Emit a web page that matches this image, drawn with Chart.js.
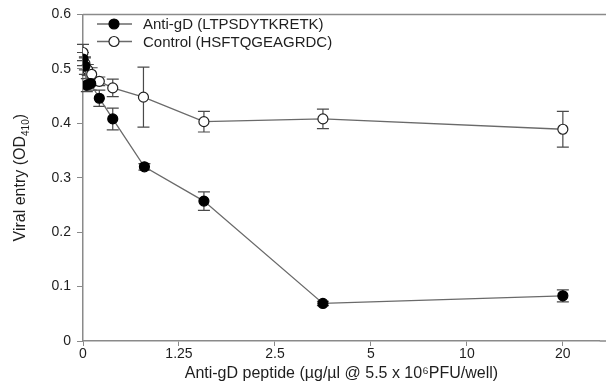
<!DOCTYPE html>
<html>
<head>
<meta charset="utf-8">
<script src="https://cdn.jsdelivr.net/npm/chart.js@4.4.1/dist/chart.umd.min.js"></script>
<style>
  body { margin: 0; background: #fff; }
</style>
</head>
<body>
<canvas id="entryChart" width="606" height="387"></canvas>
<script>
// x axis is not linear in the original: ticks are evenly spaced, so points use tick-unit positions
const xTickPos = [0, 1, 2, 3, 4, 5];
const xTickLabels = ['0', '1.25', '2.5', '5', '10', '20'];

// Anti-gD (LTPSDYTKRETK)
const antiX = [0, 0.02, 0.04, 0.08, 0.17, 0.31, 0.64, 1.26, 2.5, 5];
const antiY = [0.518, 0.505, 0.470, 0.473, 0.446, 0.408, 0.320, 0.257, 0.069, 0.083];
const antiErr = [0.012, 0.015, 0.012, 0.012, 0.015, 0.020, 0.006, 0.017, 0.004, 0.011];

// Control (HSFTQGEAGRDC)
const ctrlX = [0, 0.02, 0.05, 0.09, 0.17, 0.31, 0.63, 1.26, 2.5, 5];
const ctrlY = [0.530, 0.510, 0.498, 0.490, 0.477, 0.465, 0.448, 0.403, 0.408, 0.389];
const ctrlErr = [0.015, 0.012, 0.010, 0.012, 0.008, 0.016, 0.055, 0.019, 0.018, 0.033];

const toPoints = (xs, ys) => xs.map((x, i) => ({ x: x, y: ys[i] }));

const axisColor = '#8a8a8a';
const lineColor = '#6a6a6a';
const textColor = '#1e1e1e';
const fontFamily = '"Liberation Sans", Arial, sans-serif';

// draws vertical error bars with caps, behind the markers
const errorBars = {
    id: 'errorBars',
    beforeDatasetsDraw(chart) {
        const ctx = chart.ctx;
        const xs = chart.scales.x, ys = chart.scales.y;
        ctx.save();
        ctx.strokeStyle = '#4a4a4a';
        ctx.lineWidth = 1.2;
        chart.data.datasets.forEach(ds => {
            ds.data.forEach((p, i) => {
                const e = ds.errors[i];
                const px = xs.getPixelForValue(p.x);
                const top = ys.getPixelForValue(p.y + e);
                const bot = ys.getPixelForValue(p.y - e);
                ctx.beginPath();
                ctx.moveTo(px, top); ctx.lineTo(px, bot);
                ctx.moveTo(px - 6, top); ctx.lineTo(px + 6, top);
                ctx.moveTo(px - 6, bot); ctx.lineTo(px + 6, bot);
                ctx.stroke();
            });
        });
        ctx.restore();
    }
};

// frame lines to the right edge, y title with subscript, legend inside the plot
const frameAndLegend = {
    id: 'frameAndLegend',
    afterDraw(chart) {
        const ctx = chart.ctx;
        const area = chart.chartArea;
        ctx.save();
        ctx.strokeStyle = axisColor;
        ctx.lineWidth = 1.5;
        ctx.beginPath();
        ctx.moveTo(area.left, area.top);
        ctx.lineTo(chart.width, area.top);
        ctx.moveTo(area.right, area.bottom);
        ctx.lineTo(chart.width, area.bottom);
        ctx.stroke();

        // y axis title: Viral entry (OD410) with subscript
        const main = 'Viral entry (OD', sub = '410', close = ')';
        const bigFont = '16px ' + fontFamily, smallFont = '10px ' + fontFamily;
        ctx.font = bigFont;
        const wMain = ctx.measureText(main).width, wClose = ctx.measureText(close).width;
        ctx.font = smallFont;
        const wSub = ctx.measureText(sub).width;
        const total = wMain + wSub + wClose;
        ctx.translate(21, (area.top + area.bottom) / 2);
        ctx.rotate(-Math.PI / 2);
        ctx.fillStyle = textColor;
        ctx.textBaseline = 'middle';
        ctx.textAlign = 'left';
        let x0 = -total / 2;
        ctx.font = bigFont;
        ctx.fillText(main, x0, 0);
        ctx.font = smallFont;
        ctx.fillText(sub, x0 + wMain, 5);
        ctx.font = bigFont;
        ctx.fillText(close, x0 + wMain + wSub, 0);
        ctx.setTransform(1, 0, 0, 1, 0, 0);

        ctx.font = '15px ' + fontFamily;
        ctx.textBaseline = 'middle';
        chart.data.datasets.forEach((ds, i) => {
            const y = 24 + i * 17.5;
            ctx.strokeStyle = lineColor;
            ctx.lineWidth = 1.3;
            ctx.beginPath();
            ctx.moveTo(97, y); ctx.lineTo(132, y);
            ctx.stroke();
            ctx.beginPath();
            ctx.arc(114, y, 5, 0, Math.PI * 2);
            ctx.fillStyle = ds.pointBackgroundColor;
            ctx.fill();
            ctx.strokeStyle = ds.pointBorderColor;
            ctx.lineWidth = 1.2;
            ctx.stroke();
            ctx.fillStyle = textColor;
            ctx.fillText(ds.label, 143, y + 1);
        });
        ctx.restore();
    }
};

const ctx = document.getElementById('entryChart').getContext('2d');

new Chart(ctx, {
    type: 'scatter',
    data: {
        datasets: [
            {
                label: 'Anti-gD (LTPSDYTKRETK)',
                data: toPoints(antiX, antiY),
                errors: antiErr,
                showLine: true,
                borderColor: lineColor,
                borderWidth: 1.3,
                pointRadius: 5,
                pointBackgroundColor: '#000000',
                pointBorderColor: '#000000',
                pointBorderWidth: 1.2
            },
            {
                label: 'Control (HSFTQGEAGRDC)',
                data: toPoints(ctrlX, ctrlY),
                errors: ctrlErr,
                showLine: true,
                borderColor: lineColor,
                borderWidth: 1.3,
                pointRadius: 5,
                pointBackgroundColor: '#ffffff',
                pointBorderColor: '#222222',
                pointBorderWidth: 1.2
            }
        ]
    },
    options: {
        responsive: false,
        animation: false,
        devicePixelRatio: 1,
        layout: { padding: { top: 12, right: 0, bottom: 0, left: 0 } },
        plugins: {
            legend: { display: false },
            tooltip: { enabled: false }
        },
        scales: {
            x: {
                type: 'linear',
                min: 0,
                max: 5.385,
                afterBuildTicks: scale => { scale.ticks = xTickPos.map(v => ({ value: v })); },
                afterFit: scale => { scale.height = 46; },
                ticks: {
                    callback: (value, index) => xTickLabels[index],
                    color: textColor,
                    font: { family: fontFamily, size: 14 },
                    padding: 0,
                    maxRotation: 0,
                    autoSkip: false
                },
                grid: { drawOnChartArea: false, drawTicks: true, tickLength: 5, color: axisColor },
                border: { display: true, color: axisColor, width: 1.5 },
                title: {
                    display: true,
                    text: 'Anti-gD peptide (µg/µl @ 5.5 x 10⁶PFU/well)',
                    color: textColor,
                    font: { family: fontFamily, size: 16 },
                    padding: { top: 0, bottom: 4 }
                }
            },
            y: {
                min: 0,
                max: 0.6,
                afterFit: scale => { scale.width = 83; },
                ticks: {
                    stepSize: 0.1,
                    callback: value => (value === 0 ? '0' : value.toFixed(1)),
                    color: textColor,
                    font: { family: fontFamily, size: 14 },
                    padding: 6
                },
                grid: { drawOnChartArea: false, drawTicks: true, tickLength: 6, color: axisColor },
                border: { display: true, color: axisColor, width: 1.5 },
                title: { display: false }
            }
        }
    },
    plugins: [errorBars, frameAndLegend]
});
</script>
</body>
</html>
